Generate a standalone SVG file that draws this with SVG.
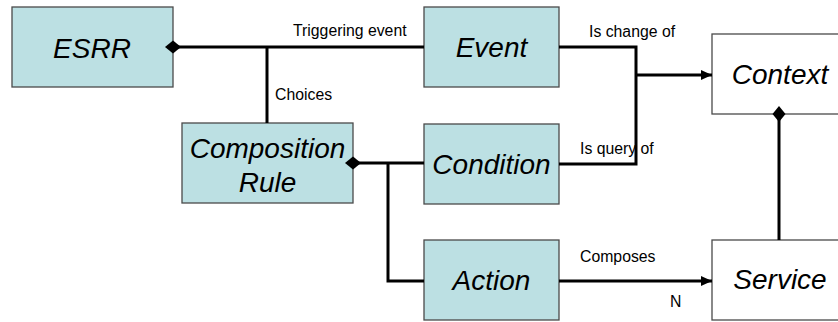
<svg xmlns="http://www.w3.org/2000/svg" width="838" height="322" viewBox="0 0 838 322">
  <style>
    .box { fill: #BCE0E3; stroke: #4a4a4a; stroke-width: 1.3; }
    .wbox { fill: #FFFFFF; stroke: #4a4a4a; stroke-width: 1.3; }
    .nt { font-family: "Liberation Sans", Arial, sans-serif; font-style: italic; font-size: 28px; fill: #000; text-anchor: middle; }
    .lbl { font-family: "Liberation Sans", Arial, sans-serif; font-size: 15.8px; fill: #000; }
    .ln { fill: none; stroke: #000; stroke-width: 3; }
  </style>
  <defs>
    <marker id="dia" viewBox="0 -7 16 14" refX="8" refY="0" markerWidth="16" markerHeight="14" markerUnits="userSpaceOnUse" orient="auto">
      <path d="M0,0 L8,-6.5 L16,0 L8,6.5 Z" fill="#000"/>
    </marker>
    <marker id="arr" viewBox="0 -5 11 10" refX="11" refY="0" markerWidth="11" markerHeight="10" markerUnits="userSpaceOnUse" orient="auto">
      <path d="M0,-5 L11,0 L0,5 Z" fill="#000"/>
    </marker>
  </defs>

  <g id="esrr">
    <rect class="box" x="12" y="7" width="161" height="80"/>
    <text class="nt" x="92" y="58">ESRR</text>
  </g>
  <g id="event">
    <rect class="box" x="424" y="7" width="135" height="80"/>
    <text class="nt" x="491.5" y="57">Event</text>
  </g>
  <g id="composition-rule">
    <rect class="box" x="182" y="123" width="171" height="80"/>
    <text class="nt" x="267.5" y="158">Composition</text>
    <text class="nt" x="267.5" y="192">Rule</text>
  </g>
  <g id="condition">
    <rect class="box" x="424" y="124" width="135" height="80"/>
    <text class="nt" x="491.5" y="174">Condition</text>
  </g>
  <g id="action">
    <rect class="box" x="424" y="240" width="135" height="80"/>
    <text class="nt" x="491.5" y="290">Action</text>
  </g>
  <g id="context">
    <rect class="wbox" x="712" y="34" width="136" height="80"/>
    <text class="nt" x="780" y="84">Context</text>
  </g>
  <g id="service">
    <rect class="wbox" x="712" y="240" width="136" height="80"/>
    <text class="nt" x="780" y="289">Service</text>
  </g>

  <g id="connectors">
    <path class="ln" d="M173,47 L424,47" marker-start="url(#dia)"/>
    <path class="ln" d="M267,47 L267,123"/>
    <path class="ln" d="M353,163 L424,163" marker-start="url(#dia)"/>
    <path class="ln" d="M388,163 L388,281 L424,281"/>
    <path class="ln" d="M559,47 L636,47 L636,164 L559,164"/>
    <path class="ln" d="M636,75 L712,75" marker-end="url(#arr)"/>
    <path class="ln" d="M559,281 L712,281" marker-end="url(#arr)"/>
    <path class="ln" d="M779,114 L779,240" marker-start="url(#dia)"/>
    <text class="lbl" x="293" y="36">Triggering event</text>
    <text class="lbl" x="275" y="100">Choices</text>
    <text class="lbl" x="589" y="37">Is change of</text>
    <text class="lbl" x="580" y="154">Is query of</text>
    <text class="lbl" x="580" y="262">Composes</text>
    <text class="lbl" x="670" y="307">N</text>
  </g>
</svg>
